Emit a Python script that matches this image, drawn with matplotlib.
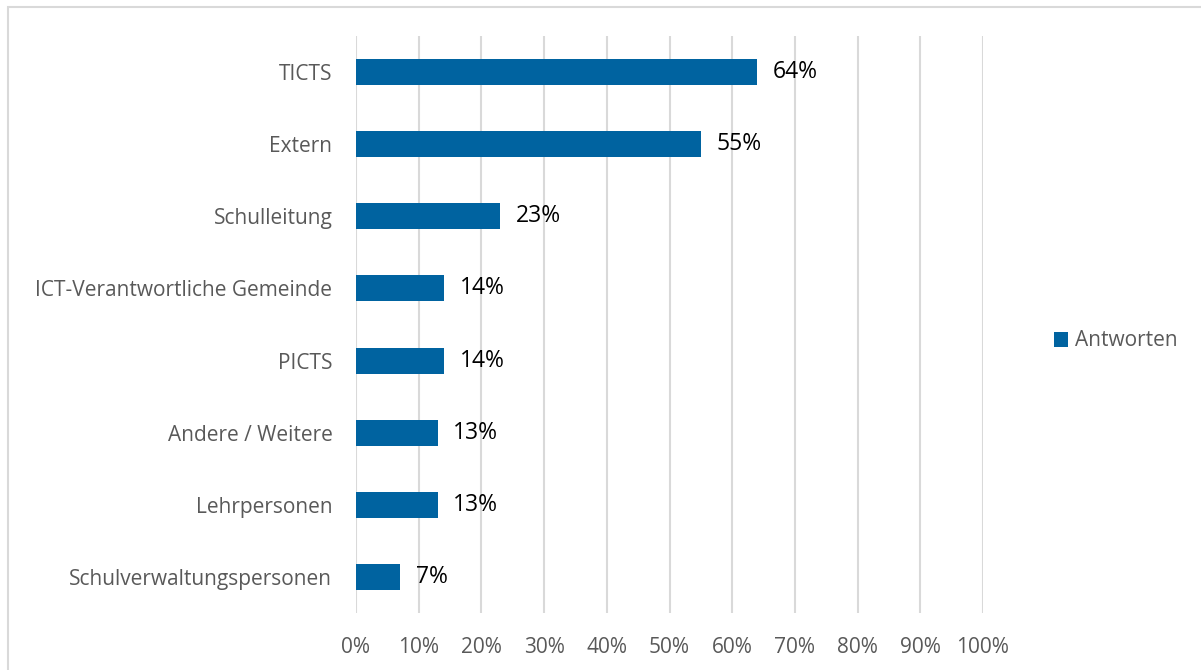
import matplotlib
matplotlib.use("Agg")
import matplotlib.pyplot as plt
from matplotlib.patches import Rectangle

categories = ["TICTS", "Extern", "Schulleitung", "ICT-Verantwortliche Gemeinde",
              "PICTS", "Andere / Weitere", "Lehrpersonen", "Schulverwaltungspersonen"]
values = [0.64, 0.55, 0.23, 0.14, 0.14, 0.13, 0.13, 0.07]
labels = ["64%", "55%", "23%", "14%", "14%", "13%", "13%", "7%"]
xticks = [i / 10 for i in range(11)]
xticklabels = [f"{i * 10}%" for i in range(11)]
series_name = "Antworten"

BLUE, GRID, TXT = "#0063a0", "#d9d9d9", "#595959"
plt.rcParams["font.family"] = ["Open Sans", "DejaVu Sans"]

W, H = 1201, 670
fig = plt.figure(figsize=(W / 100, H / 100), dpi=100)
ax = fig.add_axes([356 / W, 1 - 613 / H, (983 - 356) / W, (613 - 36) / H])

y = list(range(len(categories)))
ax.barh(y, values, height=0.36, color=BLUE, label=series_name, zorder=3)
for yi, v, lab in zip(y, values, labels):
    ax.text(v + 0.025, yi, lab, va="center", ha="left", fontsize=16.5, color="black")

ax.set_ylim(len(categories) - 0.5, -0.5)
ax.set_xlim(0, 1.0)
ax.set_yticks(y)
ax.set_yticklabels(categories, fontsize=15, color=TXT)
ax.set_xticks(xticks)
ax.set_xticklabels(xticklabels, fontsize=15, color=TXT)
ax.tick_params(axis="y", length=0, pad=17)
ax.tick_params(axis="x", length=0, pad=17)
ax.grid(axis="x", color=GRID, lw=1.5, zorder=0)
for s in ax.spines.values():
    s.set_visible(False)

fig.legend(loc="center left", bbox_to_anchor=(1035 / W, 1 - 341 / H), frameon=False,
           fontsize=15, handlelength=0.7, handleheight=0.7, handletextpad=0.3,
           labelcolor=TXT)

fig.patches.append(Rectangle((7.5 / W, -0.1), 1.2, 1 - 6.5 / H + 0.1, transform=fig.transFigure,
                             fill=False, edgecolor="#d9d9d9", lw=1.5))
fig.savefig("out.png", dpi=100)
